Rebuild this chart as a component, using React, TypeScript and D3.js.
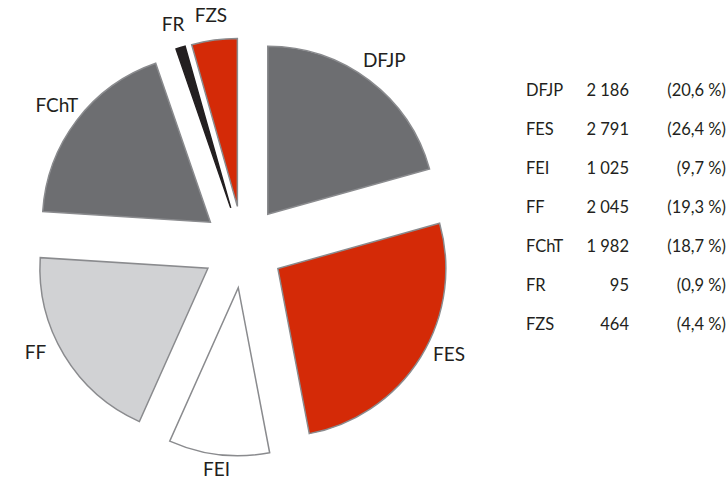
import React, { useEffect, useRef } from 'react';
import * as d3 from 'd3';

const categories = ['DFJP', 'FES', 'FEI', 'FF', 'FChT', 'FR', 'FZS'];
const values = [2186, 2791, 1025, 2045, 1982, 95, 464];
const colors = ['#6d6e71', '#d42a07', '#ffffff', '#d1d2d4', '#6d6e71', '#231f20', '#d42a07'];

const width = 728;
const height = 482;

const App: React.FC = () => {
  const svgRef = useRef<SVGSVGElement>(null);

  useEffect(() => {
    if (!svgRef.current) return;
    const svg = d3.select(svgRef.current);
    svg.selectAll('*').remove();

    const font = 'Lato, "Open Sans", sans-serif';
    const cx = 243;
    const cy = 247;
    const radius = 168;
    const explode = 41;

    const data = categories.map((name, i) => ({ name, value: values[i], color: colors[i] }));
    const total = d3.sum(values);

    const pie = d3.pie<any>()
      .sort(null)
      .value(d => d.value);
    const arcs = pie(data);

    const arc = d3.arc<any>()
      .innerRadius(0)
      .outerRadius(radius);

    const mid = (d: any) => (d.startAngle + d.endAngle) / 2;

    // label spot: plain radius above the centre, flattened ellipse below it
    const labelPos = (d: any): [number, number] => {
      const a = mid(d);
      const s = Math.sin(a);
      const c = -Math.cos(a);
      if (c < 0) return [s * 234, c * 234];
      return [s * 227 * (1 + 0.08 * Math.abs(s)), c * 227 * (1 - 0.12 * Math.abs(s))];
    };

    const g = svg.append('g')
      .attr('transform', `translate(${cx},${cy})`);

    // Exploded slices, each pushed out along its bisector
    const slices = g.selectAll('.slice')
      .data(arcs)
      .enter().append('g')
      .attr('class', 'slice')
      .attr('transform', d => `translate(${Math.sin(mid(d)) * explode},${-Math.cos(mid(d)) * explode})`);

    slices.append('path')
      .attr('d', arc)
      .style('fill', d => d.data.color)
      .style('stroke', d => d.data.name === 'FR' ? '#231f20' : '#8a8b8e')
      .style('stroke-width', 1.5)
      .style('stroke-linejoin', 'miter');

    g.selectAll('.label')
      .data(arcs)
      .enter().append('text')
      .attr('class', 'label')
      .attr('x', d => labelPos(d)[0])
      .attr('y', d => labelPos(d)[1])
      .attr('dy', '0.36em')
      .style('text-anchor', 'middle')
      .style('font-family', font)
      .style('font-size', '19px')
      .style('fill', '#231f20')
      .text(d => d.data.name);

    // Legend table
    const locale = d3.formatLocale({ decimal: ',', thousands: ' ', grouping: [3], currency: ['', ''] });
    const fmtNum = locale.format(',d');
    const fmtPct = locale.format('.1f');

    const rowY = d3.scalePoint<string>()
      .domain(categories)
      .range([90, 324]);

    const rows = svg.append('g')
      .selectAll('.row')
      .data(data)
      .enter().append('g')
      .attr('class', 'row')
      .attr('transform', d => `translate(0,${rowY(d.name)})`)
      .style('font-family', font)
      .style('font-size', '16.5px')
      .style('fill', '#231f20');

    rows.append('text')
      .attr('x', 526)
      .attr('dy', '0.36em')
      .text(d => d.name);

    rows.append('text')
      .attr('x', 629)
      .attr('dy', '0.36em')
      .style('text-anchor', 'end')
      .text(d => fmtNum(d.value));

    rows.append('text')
      .attr('x', 726)
      .attr('dy', '0.36em')
      .style('text-anchor', 'end')
      .text(d => `(${fmtPct((d.value / total) * 100)} %)`);
  }, []);

  return (
    <svg
      ref={svgRef}
      width={width}
      height={height}
      style={{ position: 'absolute', left: 0, top: 0, background: '#fff' }}
    />
  );
};

export default App;
